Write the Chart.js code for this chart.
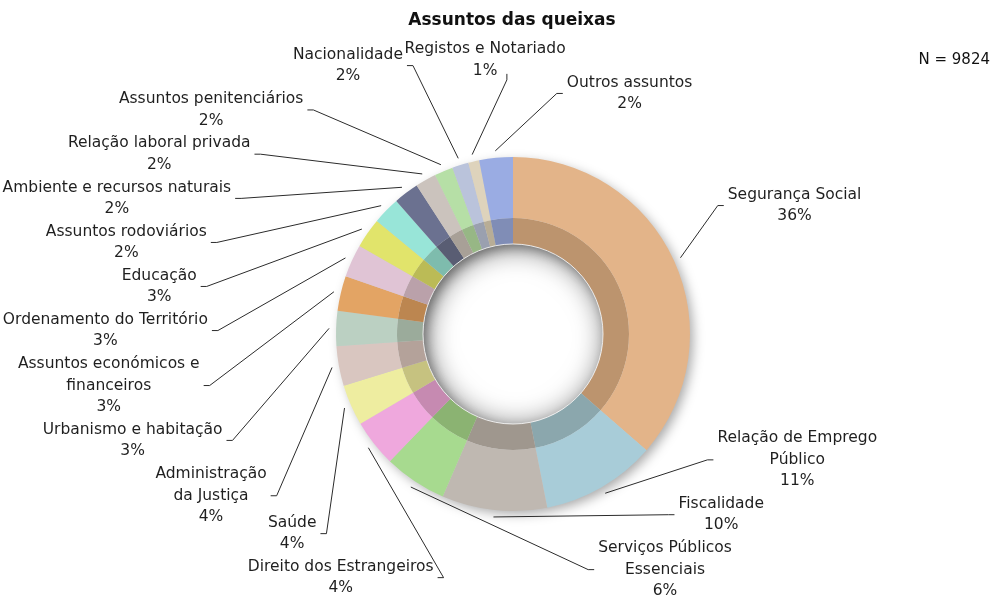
<!DOCTYPE html>
<html>
<head>
<meta charset="utf-8">
<script src="https://cdn.jsdelivr.net/npm/chart.js@4.4.1/dist/chart.umd.min.js"></script>
<style>
  html, body { margin: 0; padding: 0; background: #fff; }
  #wrap { width: 993px; height: 604px; }
</style>
</head>
<body>
<div id="wrap"><canvas id="chart" width="993" height="604"></canvas></div>
<script>
// categorias (clockwise from the top)
const categories = [
  ["Segurança Social"],
  ["Relação de Emprego", "Público"],
  ["Fiscalidade"],
  ["Serviços Públicos", "Essenciais"],
  ["Direito dos Estrangeiros"],
  ["Saúde"],
  ["Administração", "da Justiça"],
  ["Urbanismo e habitação"],
  ["Assuntos económicos e", "financeiros"],
  ["Ordenamento do Território"],
  ["Educação"],
  ["Assuntos rodoviários"],
  ["Ambiente e recursos naturais"],
  ["Relação laboral privada"],
  ["Assuntos penitenciários"],
  ["Nacionalidade"],
  ["Registos e Notariado"],
  ["Outros assuntos"]
];
// number of complaints (N = 9824)
const queixas = [3576, 1031, 943, 565, 422, 368, 354, 314, 314, 295, 270, 246, 226, 187, 167, 147, 98, 301];
const percentLabels = ["36%", "11%", "10%", "6%", "4%", "4%", "4%", "3%", "3%", "3%", "3%", "2%", "2%", "2%", "2%", "2%", "1%", "2%"];
const totalN = 9824;
const colors = [
  "#E3B489", "#A8CCD8", "#BFB8B1", "#A7DA8F", "#EFA8DD", "#EEEDA0",
  "#D9C6C0", "#BBD0C2", "#E3A464", "#E0C4D5", "#E1E46B", "#98E5D8",
  "#6B7190", "#CBC3BD", "#B6DFA6", "#BAC3DB", "#DED3BC", "#9AACE3"
];

function darken(hex) {
  const n = parseInt(hex.slice(1), 16);
  const r = Math.round(((n >> 16) & 255) * 0.83);
  const g = Math.round(((n >> 8) & 255) * 0.82);
  const b = Math.round((n & 255) * 0.8);
  return "rgb(" + r + "," + g + "," + b + ")";
}

const FONT = '"DejaVu Sans", sans-serif';

// drop shadow under the ring + inset shadow in the hole
const shadowPlugin = {
  id: "ringShadow",
  beforeDatasetsDraw(chart) {
    const a = chart.getDatasetMeta(0).data[0];
    const b = chart.getDatasetMeta(1).data[0];
    const ctx = chart.ctx;
    ctx.save();
    ctx.shadowColor = "rgba(0,0,0,0.35)";
    ctx.shadowBlur = 12;
    ctx.shadowOffsetX = 4;
    ctx.shadowOffsetY = 4;
    ctx.beginPath();
    ctx.arc(a.x, a.y, a.outerRadius - 1, 0, Math.PI * 2);
    ctx.arc(a.x, a.y, b.innerRadius + 1, 0, Math.PI * 2, true);
    ctx.fillStyle = "#ccc";
    ctx.fill();
    ctx.restore();
  },
  afterDatasetsDraw(chart) {
    const b = chart.getDatasetMeta(1).data[0];
    const ctx = chart.ctx;
    const r0 = b.innerRadius;
    ctx.save();
    ctx.beginPath();
    ctx.arc(b.x, b.y, r0, 0, Math.PI * 2);
    ctx.clip();
    ctx.shadowColor = "rgba(0,0,0,0.55)";
    ctx.shadowBlur = 28;
    ctx.shadowOffsetX = 3;
    ctx.shadowOffsetY = 3;
    ctx.beginPath();
    ctx.arc(b.x, b.y, r0 + 40, 0, Math.PI * 2);
    ctx.arc(b.x, b.y, r0, 0, Math.PI * 2, true);
    ctx.fillStyle = "#888";
    ctx.fill();
    ctx.restore();
    ctx.save();
    ctx.strokeStyle = "rgba(255,255,255,0.8)";
    ctx.lineWidth = 1;
    ctx.beginPath();
    ctx.arc(b.x, b.y, r0, 0, Math.PI * 2);
    ctx.stroke();
    ctx.restore();
  }
};

// outside labels with leader lines, spread so they do not overlap
const labelPlugin = {
  id: "outerLabels",
  afterDraw(chart) {
    const ctx = chart.ctx;
    const arcs = chart.getDatasetMeta(0).data;
    const cx = arcs[0].x, cy = arcs[0].y, R = arcs[0].outerRadius;
    const W = chart.width, H = chart.height;
    const lh = 21.5, gap = 10;
    const RXR = 225, RXL = 310, RYT = 310, RYB = 250;
    ctx.save();
    ctx.font = "15.5px " + FONT;

    const items = arcs.map((arc, i) => {
      const mid = (arc.startAngle + arc.endAngle) / 2;
      const lines = categories[i].concat([percentLabels[i]]);
      const w = Math.max(...lines.map(l => ctx.measureText(l).width));
      return { mid, phi: mid, s: 1, lines, w, h: lines.length * lh };
    });

    function place(it) {
      const ux = Math.cos(it.phi), uy = Math.sin(it.phi);
      const ax = cx + (ux > 0 ? RXR : RXL) * it.s * ux;
      const ay = cy + (uy < 0 ? RYT : RYB) * it.s * uy;
      const t = Math.min(Math.abs(ux) / 0.1, 1);
      const bx = ax + Math.sign(ux) * t * (it.w / 2 + gap);
      const by = ay + Math.sign(uy) * (1 - t) * (it.h / 2 + gap * 0.5);
      it.ax = ax; it.ay = ay; it.t = t; it.ux = ux; it.uy = uy;
      it.box = [bx - it.w / 2, by - it.h / 2, bx + it.w / 2, by + it.h / 2];
      it.bx = bx;
    }
    function overlap(p, q) {
      const pad = 1;
      return p.box[0] < q.box[2] + pad && q.box[0] < p.box[2] + pad &&
             p.box[1] < q.box[3] + pad && q.box[1] < p.box[3] + pad;
    }
    function signedGap(a, b) {
      let d = (b - a) % (2 * Math.PI);
      if (d > Math.PI) d -= 2 * Math.PI;
      if (d < -Math.PI) d += 2 * Math.PI;
      return d;
    }

    const step = 0.003;
    const minS = (R + 30) / 310;
    for (let iter = 0; iter < 6000; iter++) {
      items.forEach(place);
      let moved = false;
      for (let i = 0; i < items.length; i++) {
        for (let j = i + 1; j < items.length; j++) {
          if (overlap(items[i], items[j])) {
            const dir = signedGap(items[i].phi, items[j].phi) >= 0 ? 1 : -1;
            // the crowded side gives way a little more counter-clockwise
            if (dir > 0) { items[i].phi -= 0.6 * step; items[j].phi += 0.4 * step; }
            else { items[j].phi -= 0.6 * step; items[i].phi += 0.4 * step; }
            moved = true;
          }
        }
      }
      items.forEach(it => {
        const b = it.box;
        const a = ((it.phi % (2 * Math.PI)) + 2 * Math.PI) % (2 * Math.PI);
        if (b[3] > H - 2) {
          // bottom edge: slide along the ring, mostly towards the open right side
          it.phi += (a < Math.PI * 0.75 ? -step : step);
          moved = true;
          return;
        }
        const out = b[1] < 38 || b[0] < 2 || b[2] > W - 2;
        if (!out) return;
        moved = true;
        if (it.s > minS) { it.s -= 0.004; return; }
        if (b[1] < 38) it.phi += (a > Math.PI * 1.5 ? step : -step);
      });
      if (!moved) break;
    }
    items.forEach(place);

    ctx.strokeStyle = "#2b2b2b";
    ctx.lineWidth = 1;
    ctx.fillStyle = "#1f1f1f";
    ctx.textAlign = "center";
    ctx.textBaseline = "middle";
    items.forEach(it => {
      const sx = cx + (R + 7) * Math.cos(it.mid);
      const sy = cy + (R + 7) * Math.sin(it.mid);
      let ex = it.ax, ey = it.ay;
      if (it.t >= 0.5) ex += Math.sign(it.ux) * 6; else ey += Math.sign(it.uy) * 6;
      ctx.beginPath();
      ctx.moveTo(sx, sy);
      ctx.lineTo(it.ax, it.ay);
      ctx.lineTo(ex, ey);
      ctx.stroke();
      it.lines.forEach((l, k) => {
        ctx.fillText(l, it.bx, it.box[1] + lh * (k + 0.5));
      });
    });
    ctx.restore();
  }
};

const textPlugin = {
  id: "headerText",
  afterDraw(chart) {
    const ctx = chart.ctx;
    ctx.save();
    ctx.fillStyle = "#111";
    ctx.textBaseline = "middle";
    ctx.textAlign = "center";
    ctx.font = "bold 17px " + FONT;
    ctx.fillText("Assuntos das queixas", 512, 21);
    ctx.textAlign = "right";
    ctx.font = "15px " + FONT;
    ctx.fillText("N = " + totalN, 990, 60);
    ctx.restore();
  }
};

new Chart(document.getElementById("chart"), {
  type: "doughnut",
  data: {
    labels: categories,
    datasets: [
      { data: queixas, backgroundColor: colors, weight: 61, borderWidth: 0, hoverOffset: 0, offset: 0 },
      { data: queixas, backgroundColor: colors.map(darken), weight: 26, borderWidth: 0, hoverOffset: 0, offset: 0 }
    ]
  },
  options: {
    responsive: false,
    animation: false,
    cutout: "50.85%",
    layout: { padding: { top: 157, bottom: 93, left: 336, right: 303 } },
    plugins: {
      legend: { display: false },
      tooltip: { enabled: false },
      title: { display: false }
    }
  },
  plugins: [shadowPlugin, labelPlugin, textPlugin]
});
</script>
</body>
</html>
